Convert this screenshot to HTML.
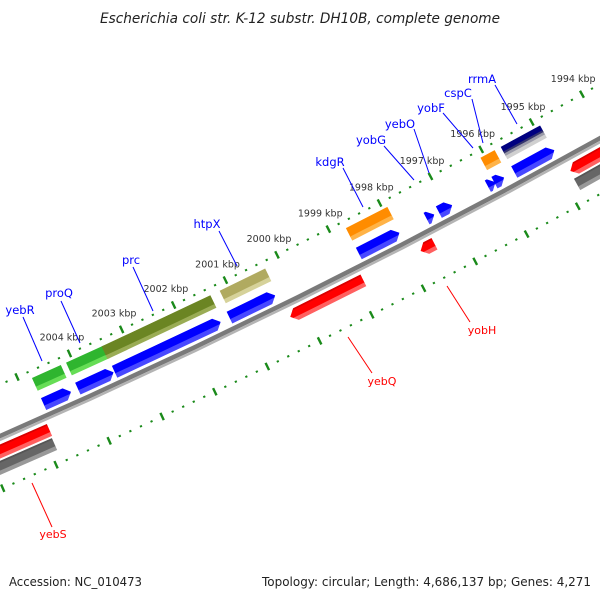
<!DOCTYPE html>
<html>
<head>
<meta charset="utf-8">
<style>
  html,body{margin:0;padding:0;background:#fff;}
  svg{display:block;}
  text{font-family:"DejaVu Sans","Liberation Sans",sans-serif;}
</style>
</head>
<body>
<svg id="map" width="600" height="600" viewBox="0 0 600 600" xmlns="http://www.w3.org/2000/svg">
  <rect width="600" height="600" fill="#fff"/>
  <defs id="defs"></defs>
  <g id="features"></g>
  <g id="ticks"></g>
  <g id="labels"></g>
  <text x="300" y="23" text-anchor="middle" font-size="14" font-style="italic" fill="#222" textLength="400" lengthAdjust="spacingAndGlyphs">Escherichia coli str. K-12 substr. DH10B, complete genome</text>
  <text x="9" y="586" font-size="12.5" fill="#222" textLength="133" lengthAdjust="spacingAndGlyphs">Accession: NC_010473</text>
  <text x="591" y="586" text-anchor="end" font-size="12.5" fill="#222" textLength="329" lengthAdjust="spacingAndGlyphs">Topology: circular; Length: 4,686,137 bp; Genes: 4,271</text>
</svg>
<script>
// ---- data ----
const featNames = ["yebS-left","yebS-pseudo","yebR","yebR-cds","proQ","proQ-cds","prc","prc-cds","htpX","htpX-cds","yebQ","kdgR","kdgR-cds","yobH","yebO-cds","yobG-cds","cspC","yobF-cds","cspC-cds","rrmA","rrmA-cds","right-minus","right-pseudo"];
const featStart = [2006.8,2006.8,2004.77,2004.77,2004.12,2004.12,2003.44,2003.42,2001.17,2001.22,2000.27,1998.72,1998.72,1997.75,1997.40,1997.16,1996.08,1996.20,1996.07,1995.68,1995.68,1994.82,1994.83];
const featEnd   = [2004.86,2004.88,2004.22,2004.25,2003.40,2003.44,2001.35,2001.39,2000.29,2000.34,1998.86,1997.91,1997.93,1997.48,1997.25,1996.90,1995.80,1996.05,1995.88,1994.90,1994.89,1993.0,1993.0];
const featRow   = ["minus","pseudo","gene","cds","gene","cds","gene","cds","gene","cds","minus","gene","cds","minus","cds","cds","gene","cds","cds","gene","cds","minus","pseudo"];
const featType  = ["red","gray","green","blue","green","blue","olive","blue","khaki","blue","red","orange","blue","red","blue","blue","orange","blue","blue","navy","blue","red","gray"];
const featArrow = ["N","N","N","R","N","R","N","R","N","R","L","N","R","L","R","R","N","R","R","N","R","L","N"];
const tickKbp = [1994,1995,1996,1997,1998,1999,2000,2001,2002,2003,2004];
const tickText = ["1994 kbp","1995 kbp","1996 kbp","1997 kbp","1998 kbp","1999 kbp","2000 kbp","2001 kbp","2002 kbp","2003 kbp","2004 kbp"];

// ---- geometry ----
const C = [-2812,-5981];
const rows = {gene:[6966,6980], cds:[6988,7001], minus:[7014,7027], pseudo:[7029,7042]};
function P(k,r){const a=(65.54+(k-2004)*0.473)*Math.PI/180;return [C[0]+r*Math.cos(a),C[1]+r*Math.sin(a)];}
function pt(p){return p[0].toFixed(2)+","+p[1].toFixed(2);}
const NS="http://www.w3.org/2000/svg";
const palette = {
  blue:  [["#0000ff",0,0.65],["#4848ff",0.65,1]],
  green: [["#2fb52f",0,0.7],["#66dd55",0.7,1]],
  olive: [["#6b8523",0,0.72],["#9aac55",0.72,1]],
  khaki: [["#b0aa60",0,0.7],["#d6d29a",0.7,1]],
  orange:[["#ff8c00",0,0.7],["#ffb347",0.7,1]],
  red:   [["#d80000",0,0.15],["#ff0000",0.15,0.7],["#ff6060",0.7,1]],
  gray:  [["#555555",0,0.15],["#666666",0.15,0.7],["#999999",0.7,1]],
  navy:  [["#000080",0,0.4],["#33336e",0.4,0.55],["#9a9aa8",0.55,0.75],["#d0d0d0",0.75,1]]
};
function band(k1,k2,r1,r2){
  const pts=[];const n=8;
  for(let i=0;i<=n;i++)pts.push(pt(P(k1+(k2-k1)*i/n,r1)));
  for(let i=n;i>=0;i--)pts.push(pt(P(k1+(k2-k1)*i/n,r2)));
  return pts.join(" ");
}
const defs=document.getElementById('defs');
const fl=document.getElementById('features');

// backbone
(function(){
  const g=document.createElementNS(NS,'g');
  
  
  [["#7a7a7a",7004,7008.5],["#b4b4b4",7008.5,7011]].forEach(s=>{
    const p=document.createElementNS(NS,'polygon');
    p.setAttribute('points',band(2008,1992,s[1],s[2]));
    p.setAttribute('fill',s[0]);
    g.appendChild(p);
  });
  fl.appendChild(g);
})();

featNames.forEach((nm,i)=>{
  const r=rows[featRow[i]];const r1=r[0],r2=r[1],rm=(r1+r2)/2;
  const k1=featStart[i],k2=featEnd[i];
  const len=Math.abs(k1-k2);const h=Math.min(0.11,len);
  let pts;
  if(featArrow[i]==="R"){
    pts=[P(k1,r1),P(k2+h,r1),P(k2,rm),P(k2+h,r2),P(k1,r2)];
  }else if(featArrow[i]==="L"){
    pts=[P(k1,rm),P(k1-h,r1),P(k2,r1),P(k2,r2),P(k1-h,r2)];
  }else{
    pts=[P(k1,r1),P(k2,r1),P(k2,r2),P(k1,r2)];
  }
  const cp=document.createElementNS(NS,'clipPath');
  cp.setAttribute('id','cp'+i);
  const cpp=document.createElementNS(NS,'polygon');
  cpp.setAttribute('points',pts.map(pt).join(" "));
  cp.appendChild(cpp);defs.appendChild(cp);
  const g=document.createElementNS(NS,'g');
  g.setAttribute('clip-path','url(#cp'+i+')');
  
  
  palette[featType[i]].forEach(s=>{
    const p=document.createElementNS(NS,'polygon');
    p.setAttribute('points',band(k1+0.2,k2-0.2,r1+(r2-r1)*s[1]-0.3,r1+(r2-r1)*s[2]+0.3));
    p.setAttribute('fill',s[0]);
    g.appendChild(p);
  });
  fl.appendChild(g);
});

// rulers
const tl=document.getElementById('ticks');
[6959,7055].forEach((rr,ri)=>{
  for(let i=0;i<=80;i++){
    const k=1992+i*0.2;const major=(i%5===0);
    const a=P(k,rr-(major?4:1)),b=P(k,rr+(major?4:1));
    const l=document.createElementNS(NS,'line');
    l.setAttribute('x1',a[0]);l.setAttribute('y1',a[1]);l.setAttribute('x2',b[0]);l.setAttribute('y2',b[1]);
    l.setAttribute('stroke','#1a8a1a');l.setAttribute('stroke-width',major?2.4:2.2);
    
    
    tl.appendChild(l);
  }
});
tickKbp.forEach((k,i)=>{
  const p=P(k,6941);
  const t=document.createElementNS(NS,'text');
  t.setAttribute('x',p[0]);t.setAttribute('y',p[1]+3.5);
  t.setAttribute('text-anchor','middle');t.setAttribute('font-size','9.5');t.setAttribute('fill','#333');
  t.textContent=tickText[i];
  
  
  tl.appendChild(t);
});

// gene labels with leader lines
const labText=["yebR","proQ","prc","htpX","kdgR","yobG","yebO","yobF","cspC","rrmA","yebS","yebQ","yobH"];
const labColor=["#0000ff","#0000ff","#0000ff","#0000ff","#0000ff","#0000ff","#0000ff","#0000ff","#0000ff","#0000ff","#ff0000","#ff0000","#ff0000"];
const labXY=[[20,314],[59,297],[131,264],[207,228],[330,166],[371,144],[400,128],[431,112],[458,97],[482,83],[53,538],[382,385],[482,334]];
const labLine=[[23,317,42,361],[61,301,80,343],[133,267,153,311],[219,231,237,266],[343,168,363,207],[384,146,414,180],[414,129,429,173],[443,113,473,148],[472,99,483,143],[495,85,517,124],[32,483,52,527],[348,337,372,373],[447,286,470,322]];
const ll=document.getElementById('labels');
labText.forEach((s,i)=>{
  const L=labLine[i];
  const l=document.createElementNS(NS,'line');
  l.setAttribute('x1',L[0]);l.setAttribute('y1',L[1]);l.setAttribute('x2',L[2]);l.setAttribute('y2',L[3]);
  l.setAttribute('stroke',labColor[i]);l.setAttribute('stroke-width','1');
  
  
  ll.appendChild(l);
  const t=document.createElementNS(NS,'text');
  t.setAttribute('x',labXY[i][0]);t.setAttribute('y',labXY[i][1]);
  t.setAttribute('text-anchor','middle');t.setAttribute('font-size',i>=10?'11':'11.5');
  t.setAttribute('fill',labColor[i]);
  t.textContent=s;
  
  
  ll.appendChild(t);
});
</script>
</body>
</html>
